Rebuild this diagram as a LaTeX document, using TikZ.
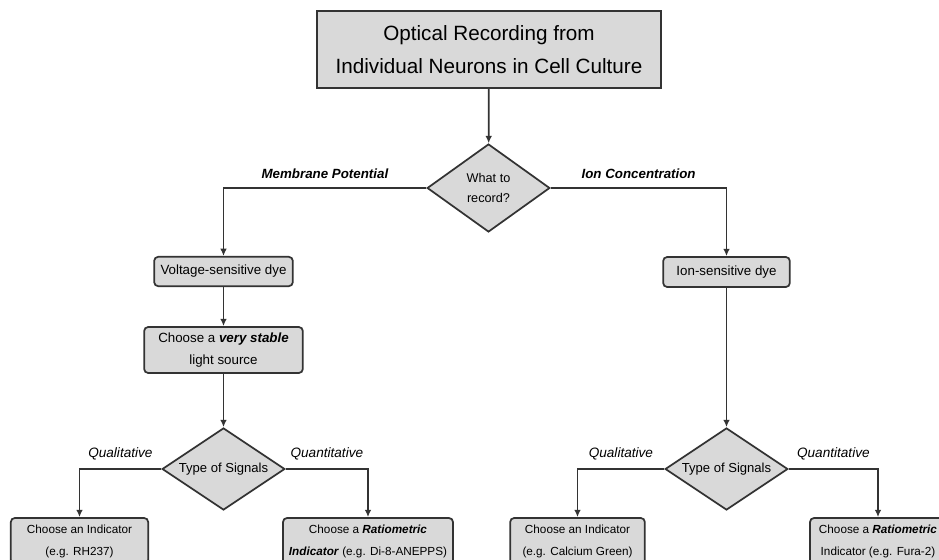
\documentclass[tikz,border=0pt]{standalone}
\usepackage{fontspec}
\setmainfont{Liberation Sans}
\usetikzlibrary{shapes.geometric,arrows.meta}
\definecolor{boxgray}{HTML}{D9D9D9}
\definecolor{linegray}{HTML}{333333}
\begin{document}
\begin{tikzpicture}[x=0.75pt, y=-0.75pt,
    line width=1.3pt, draw=linegray,
    arrow/.style={-{Latex[length=5.5pt,width=5pt]}, draw=linegray},
    titlebox/.style={rectangle, draw=linegray, fill=boxgray, align=center,
        minimum width=258pt, minimum height=57.75pt, font=\fontsize{15.5}{24.5}\selectfont},
    stepbox/.style={rectangle, rounded corners=3pt, draw=linegray, fill=boxgray, align=center,
        inner sep=2pt, font=\fontsize{10}{16}\selectfont},
    endbox/.style={stepbox, minimum height=34.5pt, font=\fontsize{8.8}{16.5}\selectfont},
    choice/.style={diamond, aspect=1.5, draw=linegray, fill=boxgray, align=center, inner sep=0pt,
        minimum width=92pt, minimum height=61.5pt, font=\fontsize{9.8}{15}\selectfont},
    branch/.style={font=\fontsize{10.2}{12}\selectfont\itshape, above=3pt}]
    \clip (0,0) rectangle (939,560);

    % Define states
    \node[titlebox] (title) at (489,49.5) {\rule{0pt}{9pt}Optical Recording from\\Individual Neurons in Cell Culture};
    \node[choice, aspect=1.4, minimum height=66pt, font=\fontsize{9.5}{15}\selectfont] (what) at (488.5,188) {What to\\record?};
    \node[stepbox, minimum width=104pt, minimum height=22pt] (vdye) at (223.5,271.5) {Voltage-sensitive dye};
    \node[stepbox, minimum width=95pt, minimum height=22.5pt] (idye) at (726.5,272) {Ion-sensitive dye};
    \node[stepbox, minimum width=119pt, minimum height=34.5pt] (light) at (223.5,350) {Choose a \textbf{\textit{very stable}}\\light source};
    \node[choice] (vtype) at (223.5,469) {Type of Signals};
    \node[choice] (itype) at (726.5,469) {Type of Signals};
    \node[endbox, minimum width=103pt] (vqual) at (79.5,541) {Choose an Indicator\\(e.g. RH237)};
    \node[endbox, minimum width=127.5pt] (vquan) at (368,541) {Choose a \textbf{\textit{Ratiometric}}\\\textbf{\textit{Indicator}} (e.g. Di-8-ANEPPS)};
    \node[endbox, minimum width=101pt] (iqual) at (577.5,541) {Choose an Indicator\\(e.g. Calcium Green)};
    \node[endbox, minimum width=102pt] (iquan) at (878,541) {Choose a \textbf{\textit{Ratiometric}}\\Indicator (e.g. Fura-2)};

    % Transitions between states
    \draw[arrow] (title) -- (what);
    \draw[arrow] (what.west) -| node[branch, pos=0.25, font=\fontsize{10}{12}\selectfont\bfseries\itshape] {Membrane Potential} (vdye.north);
    \draw[arrow] (what.east) -| node[branch, pos=0.25, font=\fontsize{10}{12}\selectfont\bfseries\itshape] {Ion Concentration} (idye.north);
    \draw[arrow] (vdye) -- (light);
    \draw[arrow] (light) -- (vtype);
    \draw[arrow] (idye) -- (itype);

    % Signal branches
    \draw[arrow] (vtype.west) -| node[branch, pos=0.25] {Qualitative} (vqual.north);
    \draw[arrow] (vtype.east) -| node[branch, pos=0.25] {Quantitative} (vquan.north);
    \draw[arrow] (itype.west) -| node[branch, pos=0.25] {Qualitative} (iqual.north);
    \draw[arrow] (itype.east) -| node[branch, pos=0.25] {Quantitative} (iquan.north);

    \end{tikzpicture}
\end{document}
